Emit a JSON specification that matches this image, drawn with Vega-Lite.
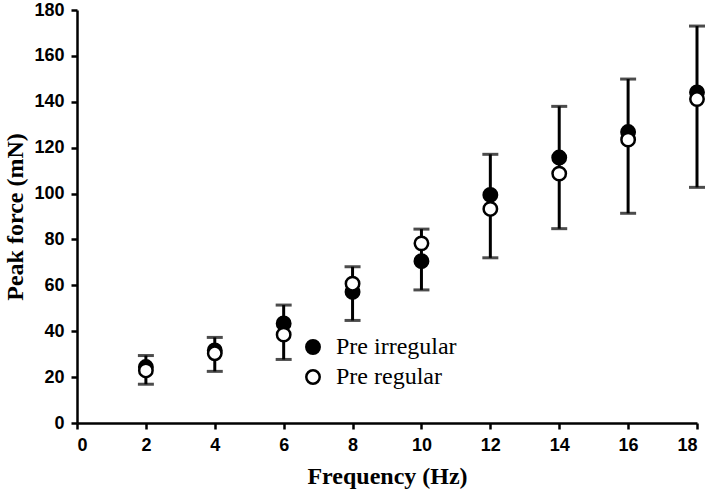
{
  "$schema": "https://vega.github.io/schema/vega-lite/v6.json",
  "autosize": {"type": "none"},
  "padding": {"left": 77, "top": 10, "right": 12, "bottom": 74},
  "width": 620,
  "height": 413,
  "background": "white",
  "config": {
    "view": {"stroke": null},
    "axis": {
      "grid": false,
      "domainColor": "black",
      "domainWidth": 2.5,
      "tickColor": "black",
      "tickWidth": 2.5,
      "tickSize": 6,
      "labelFont": "Liberation Sans",
      "labelFontWeight": "bold",
      "labelFontSize": 18,
      "labelColor": "black",
      "labelPadding": 7,
      "titleFont": "Liberation Serif",
      "titleFontSize": 24,
      "titleFontWeight": "bold",
      "titleColor": "black"
    }
  },
  "datasets": {
    "points": [
      {"freq": 2, "series": "Pre irregular", "force": 24.4},
      {"freq": 4, "series": "Pre irregular", "force": 31.6},
      {"freq": 6, "series": "Pre irregular", "force": 43.4},
      {"freq": 8, "series": "Pre irregular", "force": 57.1},
      {"freq": 10, "series": "Pre irregular", "force": 70.5},
      {"freq": 12, "series": "Pre irregular", "force": 99.4},
      {"freq": 14, "series": "Pre irregular", "force": 115.7},
      {"freq": 16, "series": "Pre irregular", "force": 126.8},
      {"freq": 18, "series": "Pre irregular", "force": 144.1},
      {"freq": 2, "series": "Pre regular", "force": 22.9},
      {"freq": 4, "series": "Pre regular", "force": 30.4},
      {"freq": 6, "series": "Pre regular", "force": 38.5},
      {"freq": 8, "series": "Pre regular", "force": 60.7},
      {"freq": 10, "series": "Pre regular", "force": 78.3},
      {"freq": 12, "series": "Pre regular", "force": 93.3},
      {"freq": 14, "series": "Pre regular", "force": 108.7},
      {"freq": 16, "series": "Pre regular", "force": 123.5},
      {"freq": 18, "series": "Pre regular", "force": 141.2}
    ],
    "errors": [
      {"freq": 2, "low": 16.9, "high": 29.4},
      {"freq": 4, "low": 22.5, "high": 37.3},
      {"freq": 6, "low": 27.7, "high": 51.4},
      {"freq": 8, "low": 44.7, "high": 68.1},
      {"freq": 10, "low": 58.0, "high": 84.5},
      {"freq": 12, "low": 72.0, "high": 117.1},
      {"freq": 14, "low": 84.7, "high": 138.0},
      {"freq": 16, "low": 91.4, "high": 149.9},
      {"freq": 18, "low": 102.7, "high": 173.0}
    ]
  },
  "layer": [
    {
      "data": {"name": "errors"},
      "mark": {"type": "rule", "color": "black", "strokeWidth": 3},
      "encoding": {
        "x": {"field": "freq", "type": "quantitative", "scale": {"domain": [0, 18], "nice": false},
              "axis": {"values": [0, 2, 4, 6, 8, 10, 12, 14, 16, 18], "title": "Frequency (Hz)", "titlePadding": 10}},
        "y": {"field": "low", "type": "quantitative", "scale": {"domain": [0, 180], "nice": false},
              "axis": {"values": [0, 20, 40, 60, 80, 100, 120, 140, 160, 180], "title": "Peak force (mN)", "titlePadding": 6}},
        "y2": {"field": "high"}
      }
    },
    {
      "data": {"name": "errors"},
      "mark": {"type": "tick", "color": "black", "orient": "horizontal", "size": 16, "thickness": 3},
      "encoding": {
        "x": {"field": "freq", "type": "quantitative"},
        "y": {"field": "low", "type": "quantitative"}
      }
    },
    {
      "data": {"name": "errors"},
      "mark": {"type": "tick", "color": "black", "orient": "horizontal", "size": 16, "thickness": 3},
      "encoding": {
        "x": {"field": "freq", "type": "quantitative"},
        "y": {"field": "high", "type": "quantitative"}
      }
    },
    {
      "data": {"name": "points"},
      "mark": {"type": "point", "shape": "circle", "filled": true, "stroke": "black", "strokeWidth": 2.5, "size": 180, "opacity": 1},
      "encoding": {
        "x": {"field": "freq", "type": "quantitative"},
        "y": {"field": "force", "type": "quantitative"},
        "fill": {
          "field": "series", "type": "nominal",
          "scale": {"domain": ["Pre irregular", "Pre regular"], "range": ["black", "white"]},
          "legend": {
            "title": null,
            "orient": "none",
            "legendX": 224,
            "legendY": 325,
            "symbolStrokeColor": "black",
            "symbolStrokeWidth": 2.5,
            "symbolSize": 180,
            "symbolOpacity": 1,
            "labelFont": "Liberation Serif",
            "labelFontSize": 24,
            "labelColor": "black",
            "labelOffset": 11,
            "rowPadding": 6
          }
        }
      }
    }
  ]
}
